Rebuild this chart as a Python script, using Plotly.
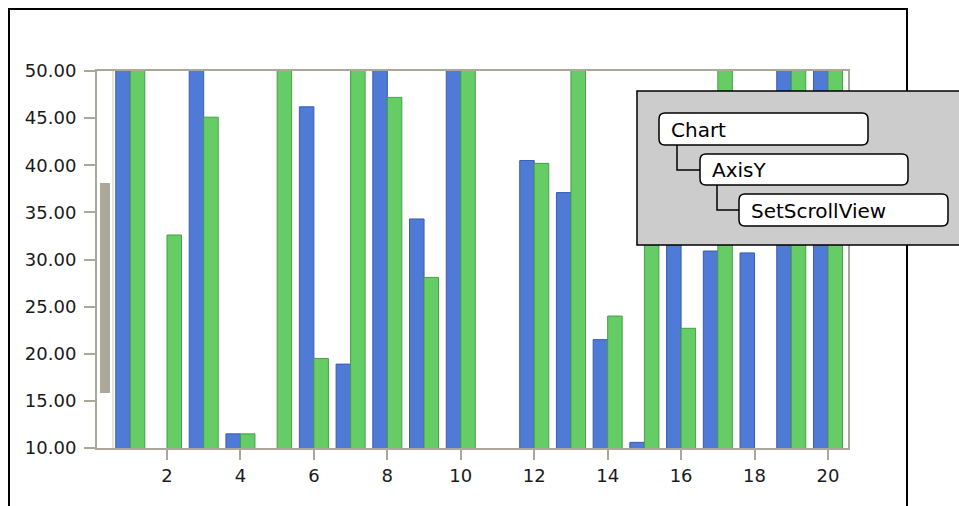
import plotly.graph_objects as go

# ---- data ----
categories = list(range(1, 21))
series_a = [62, 6, 58, 11.5, 4, 46.2, 18.9, 55, 34.3, 61, 7, 40.5, 37.1, 21.5, 10.6, 41, 30.9, 30.7, 60, 57]
series_b = [56, 32.6, 45.1, 11.5, 59, 19.5, 63, 47.2, 28.1, 57, 5, 40.2, 64, 24.0, 44, 22.7, 58, 8, 61, 66]
y_ticks = [10, 15, 20, 25, 30, 35, 40, 45, 50]
x_ticks = [2, 4, 6, 8, 10, 12, 14, 16, 18, 20]
tree_labels = ["Chart", "AxisY", "SetScrollView"]

W, H = 959, 506
PL, PR, PT, PB = 97, 848, 71, 448  # plot area in pixels


def px(x):
    return x / W


def py(y):
    return 1 - y / H


def rounded(x0, y0, x1, y1, r):
    # rounded rectangle path in paper coordinates from pixel corners
    rx, ry = r / W, r / H
    a, b, c, d = px(x0), py(y0), px(x1), py(y1)
    return (f"M{a+rx},{b} L{c-rx},{b} Q{c},{b} {c},{b-ry} L{c},{d+ry} Q{c},{d} {c-rx},{d} "
            f"L{a+rx},{d} Q{a},{d} {a},{d+ry} L{a},{b-ry} Q{a},{b} {a+rx},{b} Z")


BORDER = "#ACA899"
fig = go.Figure()
fig.add_trace(go.Bar(x=categories, y=series_a, marker=dict(color="#4F7AD6", line=dict(color="#3A5DB0", width=1))))
fig.add_trace(go.Bar(x=categories, y=series_b, marker=dict(color="#66CC66", line=dict(color="#46A046", width=1))))

font = dict(family="DejaVu Sans", size=18, color="#1a1a1a")
fig.update_layout(
    width=W, height=H, margin=dict(l=0, r=0, t=0, b=0, autoexpand=False),
    paper_bgcolor="white", plot_bgcolor="white",
    barmode="group", bargap=0.21, bargroupgap=0, showlegend=False,
    xaxis=dict(domain=[px(PL), px(PR)], range=[0.094, 20.545], tickvals=x_ticks,
               ticks="outside", ticklen=10, tickwidth=1.5, tickcolor=BORDER,
               showline=True, linecolor=BORDER, linewidth=2, mirror=True, automargin=False,
               showgrid=False, zeroline=False, tickfont=font),
    yaxis=dict(domain=[py(PB), py(PT)], range=[10, 50], tickvals=y_ticks, tickformat=".2f",
               ticks="outside", ticklen=11, tickwidth=1.5, tickcolor=BORDER,
               showline=True, linecolor=BORDER, linewidth=2, mirror=True, automargin=False,
               showgrid=False, zeroline=False, tickfont=font, ticklabelstandoff=4),
)

shapes = []
# scrollbar track border and thumb
shapes.append(dict(type="line", xref="paper", yref="paper", x0=px(113), x1=px(113), y0=py(PT), y1=py(PB),
                   line=dict(color="#C8C4B8", width=1)))
shapes.append(dict(type="rect", xref="paper", yref="paper", x0=px(100), x1=px(110), y0=py(393), y1=py(183),
                   fillcolor=BORDER, line=dict(width=0)))
# outer frame
for x0, y0, x1, y1 in [(9, 9, 9, 506), (8, 9, 908, 9), (907, 9, 907, 506)]:
    shapes.append(dict(type="line", xref="paper", yref="paper", x0=px(x0), x1=px(x1), y0=py(y0), y1=py(y1),
                       line=dict(color="black", width=2)))
# tree panel
shapes.append(dict(type="rect", xref="paper", yref="paper", x0=px(637), x1=px(962), y0=py(245), y1=py(91),
                   fillcolor="#CCCCCC", line=dict(color="black", width=1.5)))
boxes = [(659, 113, 868, 145), (700, 154, 908, 185), (739, 194, 948, 226)]
for (x0, y0, x1, y1), label in zip(boxes, tree_labels):
    shapes.append(dict(type="path", xref="paper", yref="paper", path=rounded(x0, y0, x1, y1, 6),
                       fillcolor="white", line=dict(color="black", width=1.5)))
    fig.add_annotation(x=px(x0 + 10), y=py((y0 + y1) / 2 + 1), xref="paper", yref="paper", text=label,
                       showarrow=False, xanchor="left", yanchor="middle",
                       font=dict(family="DejaVu Sans", size=20, color="black"))
for xs, y_top, y_mid, x_end in [(677, 145, 170, 700), (717, 185, 210, 739)]:
    shapes.append(dict(type="path", xref="paper", yref="paper",
                       path=f"M{px(xs)},{py(y_top)} L{px(xs)},{py(y_mid)} L{px(x_end)},{py(y_mid)}",
                       line=dict(color="black", width=1.5)))
fig.update_layout(shapes=shapes)

fig.write_html("out.html")
